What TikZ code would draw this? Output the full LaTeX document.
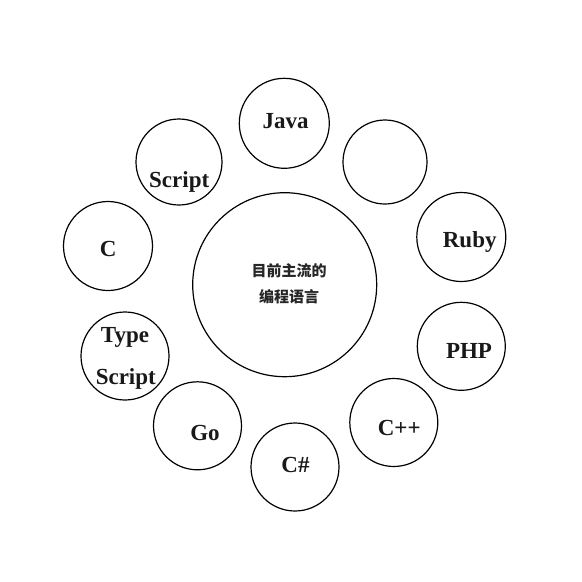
\documentclass[tikz,border=0pt]{standalone}
\usepackage{fontspec}
\setmainfont{Liberation Serif}
\newfontfamily\cjk{Noto Sans CJK SC}
\begin{document}
\begin{tikzpicture}[x=1pt,y=-1pt,
  lang/.style={draw=black,line width=1.2pt,circle,minimum size=88pt,inner sep=0pt},
  hub/.style={draw=black,line width=1.2pt,circle,minimum size=184pt,inner sep=0pt},
  word/.style={font=\fontsize{23}{27}\selectfont\bfseries,anchor=base,inner sep=0pt,text=black!90},
  hanzi/.style={font=\cjk\fontsize{15}{18}\selectfont\bfseries,inner sep=0pt,text=black!85}]
\useasboundingbox[fill=white] (0,0) rectangle (582,582);
% circles
\node[hub] (hub) at (284.7,284.7) {};
\node[lang,minimum size=90pt] (java) at (284.3,123.3) {};
\node[lang,minimum size=86pt] (js) at (179,162) {};
\node[lang,minimum size=84pt] (tr) at (385,162) {};
\node[lang,minimum size=89pt] (c) at (108,246) {};
\node[lang,minimum size=89pt] (ruby) at (461.3,237) {};
\node[lang] (ts) at (125,356) {};
\node[lang] (php) at (461.3,346.3) {};
\node[lang] (go) at (197.5,425.8) {};
\node[lang] (cpp) at (393.8,422.5) {};
\node[lang] (cs) at (295,467) {};
% labels
\node[hanzi] (h1) at (289,270.5) {目前主流的};
\node[hanzi] (h2) at (289,297) {编程语言};
\node[word] (tjava) at (285.5,128.5) {Java};
\node[word] (tjs) at (179.2,187) {Script};
\node[word] (tc) at (108.3,256.7) {C};
\node[word] (truby) at (469.7,247.3) {Ruby};
\node[word] (tts1) at (125,342.7) {Type};
\node[word] (tts2) at (125.8,384.3) {Script};
\node[word] (tphp) at (469,358.3) {PHP};
\node[word] (tgo) at (205,440) {Go};
\node[word] (tcpp) at (399.2,435) {C++};
\node[word] (tcs) at (295.5,472.7) {C\#};
\end{tikzpicture}
\end{document}
